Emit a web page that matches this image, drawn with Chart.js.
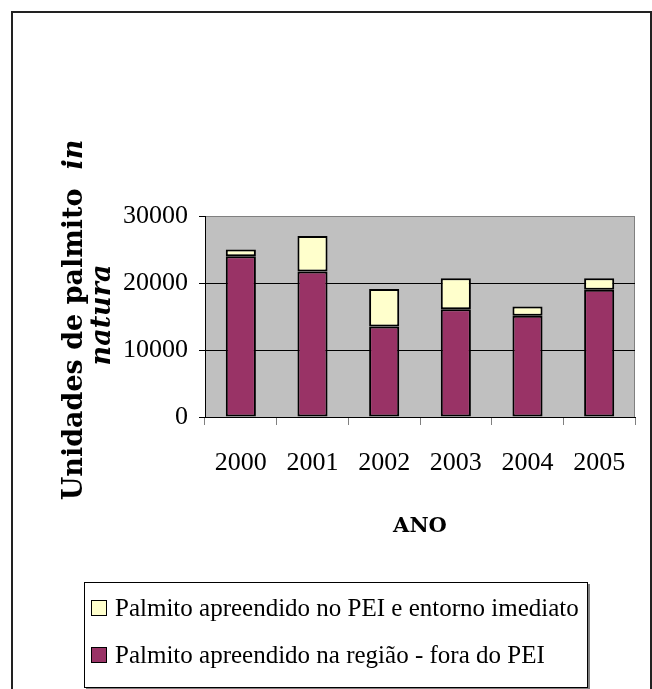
<!DOCTYPE html>
<html lang="pt">
<head>
<meta charset="UTF-8">
<title>Palmito apreendido</title>
<script src="https://cdn.jsdelivr.net/npm/chart.js@4.4.1/dist/chart.umd.min.js"></script>
<style>
  html, body { margin: 0; padding: 0; width: 652px; height: 689px; overflow: hidden; background: #fff; }
  #frame { position: absolute; left: 11px; top: 11px; width: 637px; height: 700px; border: 2px solid #222; border-bottom: none; }
  #chart { position: absolute; left: 0; top: 0; }
  #legend { position: absolute; left: 84px; top: 582px; width: 502px; height: 104px; border: 1px solid #000;
            box-shadow: 2px 2px 0 #808080; background: #fff; font-family: "Liberation Serif", serif; font-size: 25px; color: #000; }
  #legend .item { position: absolute; left: 6px; height: 28px; line-height: 28px; white-space: nowrap; }
  #legend .box { display: inline-block; width: 14px; height: 14px; border: 1px solid #000; vertical-align: middle; margin-right: 8px; position: relative; top: -2px; }
</style>
</head>
<body>
<div id="frame"></div>
<canvas id="chart" width="652" height="689"></canvas>
<div id="legend"></div>
<script>
// data
var years = ['2000', '2001', '2002', '2003', '2004', '2005'];
var foraPEI = [24000, 21700, 13500, 16100, 15100, 19000];
var noPEI = [1000, 5300, 5600, 4600, 1400, 1700];
var yTicks = [0, 10000, 20000, 30000];

var labelFora = 'Palmito apreendido na região - fora do PEI';
var labelPEI = 'Palmito apreendido no PEI e entorno imediato';
var xTitle = 'ANO';
var yTitleA = 'Unidades de palmito  ';
var yTitleB = 'in';
var yTitleC = 'natura';

// grey plot area with thin grey frame
var plotBg = {
    id: 'plotBg',
    beforeDraw: function (chart) {
        var a = chart.chartArea, ctx = chart.ctx;
        ctx.save();
        ctx.fillStyle = '#c0c0c0';
        ctx.fillRect(a.left, a.top, a.right - a.left, a.bottom - a.top);
        ctx.strokeStyle = '#808080';
        ctx.lineWidth = 1;
        ctx.strokeRect(a.left + 0.5, a.top + 0.5, a.right - a.left - 1, a.bottom - a.top);
        ctx.restore();
    }
};

// rotated y title, part of it in italics
var yTitle = {
    id: 'yTitle',
    afterDraw: function (chart) {
        var ctx = chart.ctx;
        var bold = 'bold 27px "DejaVu Serif"';
        var boldIt = 'italic bold 27px "DejaVu Serif"';
        ctx.save();
        ctx.fillStyle = '#000';
        ctx.textBaseline = 'middle';
        ctx.textAlign = 'left';

        ctx.translate(75, 320);
        ctx.rotate(-Math.PI / 2);
        ctx.font = bold;
        var w1 = ctx.measureText(yTitleA).width;
        ctx.font = boldIt;
        var w2 = ctx.measureText(yTitleB).width;
        var x0 = -(w1 + w2) / 2;
        ctx.font = bold;
        ctx.fillText(yTitleA, x0, 0);
        ctx.font = boldIt;
        ctx.fillText(yTitleB, x0 + w1, 0);

        ctx.textAlign = 'center';
        ctx.fillText(yTitleC, 5, 28);
        ctx.restore();
    }
};

var ctx = document.getElementById('chart');
var chart = new Chart(ctx, {
    type: 'bar',
    data: {
        labels: years,
        datasets: [{
            label: labelFora,
            data: foraPEI,
            backgroundColor: '#993366',
            borderColor: '#000',
            borderWidth: 2,
            borderSkipped: false
        }, {
            label: labelPEI,
            data: noPEI,
            backgroundColor: '#ffffcc',
            borderColor: '#000',
            borderWidth: 2,
            borderSkipped: false
        }]
    },
    options: {
        responsive: false,
        animation: false,
        categoryPercentage: 1,
        barPercentage: 0.42,
        layout: { padding: { top: 216, right: 17, left: 0, bottom: 0 } },
        plugins: {
            legend: { display: false },
            tooltip: { enabled: false }
        },
        scales: {
            x: {
                stacked: true,
                grid: { drawOnChartArea: false, tickLength: 8, tickColor: '#808080', offset: true },
                border: { color: '#000', width: 1 },
                ticks: { color: '#000', padding: 23, maxRotation: 0, font: { family: 'Liberation Serif', size: 26 } },
                title: {
                    display: true, text: xTitle, color: '#000',
                    font: { family: 'DejaVu Serif', weight: 'bold', size: 21 },
                    padding: { top: 0, bottom: 150 }
                },
                afterFit: function (s) { s.height = 272; }
            },
            y: {
                stacked: true,
                min: 0,
                max: 30000,
                afterBuildTicks: function (s) { s.ticks = yTicks.map(function (v) { return { value: v }; }); },
                grid: {
                    tickLength: 6,
                    tickColor: '#000',
                    color: function (c) {
                        if (c.tick && c.tick.value === 30000) return '#808080';
                        return '#000';
                    }
                },
                border: { color: '#000', width: 1 },
                ticks: {
                    color: '#000', padding: 11, font: { family: 'Liberation Serif', size: 26 },
                    callback: function (v) { return String(v); }
                },
                afterFit: function (s) { s.width = 205; }
            }
        }
    },
    plugins: [plotBg, yTitle]
});

// legend box, PEI entry first as in the original
var legend = document.getElementById('legend');
var order = [1, 0];
order.forEach(function (i, row) {
    var ds = chart.data.datasets[i];
    var item = document.createElement('div');
    item.className = 'item';
    item.style.top = (11 + row * 47) + 'px';
    var box = document.createElement('span');
    box.className = 'box';
    box.style.background = ds.backgroundColor;
    item.appendChild(box);
    item.appendChild(document.createTextNode(ds.label));
    legend.appendChild(item);
});
</script>
</body>
</html>
